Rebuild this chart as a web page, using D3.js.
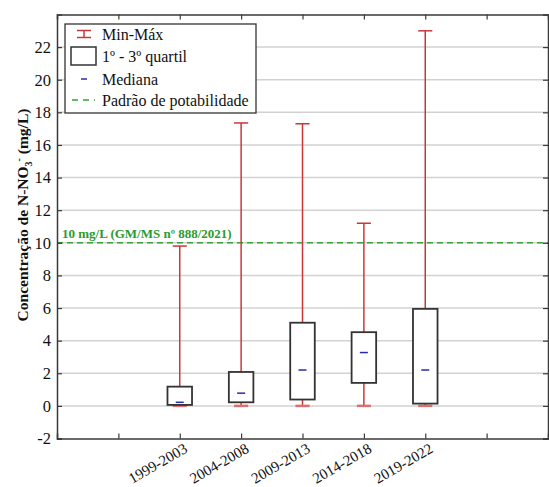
<!DOCTYPE html>
<html>
<head>
<meta charset="utf-8">
<script src="https://cdn.jsdelivr.net/npm/d3@7"></script>
<style>
  body { margin: 0; background: #fff; }
  svg { display: block; }
  svg text { font-family: "Liberation Serif", "DejaVu Serif", serif; }
</style>
</head>
<body>
<svg id="chart" width="549" height="487"></svg>
<script>
// data (mg/L)
const periods = ['1999-2003', '2004-2008', '2009-2013', '2014-2018', '2019-2022'];
const minVals = [0, 0, 0, 0, 0];
const q1Vals = [0.06, 0.22, 0.39, 1.41, 0.14];
const medVals = [0.22, 0.78, 2.2, 3.27, 2.2];
const q3Vals = [1.18, 2.08, 5.1, 4.52, 5.95];
const maxVals = [9.8, 17.35, 17.3, 11.2, 23.0];
const yTicks = [-2, 0, 2, 4, 6, 8, 10, 12, 14, 16, 18, 20, 22];
const limitValue = 10;

const width = 549, height = 487;
const margin = { top: 14.5, right: 1, bottom: 48.5, left: 57 };

const svg = d3.select('#chart');

// x: categories sit on positions 2..6 of a 0..8 axis
const x = d3.scaleLinear().domain([0, 8]).range([margin.left, width - margin.right]);
const y = d3.scaleLinear().domain([-2, 24]).range([height - margin.bottom, margin.top]);
const unit = x(1) - x(0);
const boxW = unit * 0.4;
const capW = unit * 0.23;

// grid
svg.append('g')
  .selectAll('line')
  .data(yTicks.filter(d => d > -2))
  .join('line')
  .attr('x1', x(0)).attr('x2', x(8))
  .attr('y1', d => y(d)).attr('y2', d => y(d))
  .attr('stroke', '#d2d2d2')
  .attr('stroke-width', 1.5);

// limit line
svg.append('line')
  .attr('x1', x(0)).attr('x2', x(8))
  .attr('y1', y(limitValue)).attr('y2', y(limitValue))
  .attr('stroke', '#3aa23a')
  .attr('stroke-width', 1.5)
  .attr('stroke-dasharray', '6,4');

svg.append('text')
  .attr('x', x(0) + 5)
  .attr('y', y(limitValue) - 5)
  .attr('fill', '#2e9a2e')
  .attr('font-weight', 'bold')
  .attr('font-size', '13px')
  .text('10 mg/L (GM/MS nº 888/2021)');

const data = periods.map((p, i) => ({
  name: p, pos: i + 2,
  min: minVals[i], q1: q1Vals[i], med: medVals[i], q3: q3Vals[i], max: maxVals[i]
}));

const red = '#c8383a';
const g = svg.append('g');
const box = g.selectAll('g').data(data).join('g');

// whiskers
box.append('line')
  .attr('x1', d => x(d.pos)).attr('x2', d => x(d.pos))
  .attr('y1', d => y(d.min)).attr('y2', d => y(d.max))
  .attr('stroke', red).attr('stroke-width', 1.5);
box.append('line')
  .attr('x1', d => x(d.pos) - capW / 2).attr('x2', d => x(d.pos) + capW / 2)
  .attr('y1', d => y(d.max)).attr('y2', d => y(d.max))
  .attr('stroke', red).attr('stroke-width', 1.5);
box.append('line')
  .attr('x1', d => x(d.pos) - capW / 2).attr('x2', d => x(d.pos) + capW / 2)
  .attr('y1', d => y(d.min)).attr('y2', d => y(d.min))
  .attr('stroke', '#d87070').attr('stroke-width', 2.5);

// boxes
box.append('rect')
  .attr('x', d => x(d.pos) - boxW / 2)
  .attr('width', boxW)
  .attr('y', d => y(d.q3))
  .attr('height', d => y(d.q1) - y(d.q3))
  .attr('fill', '#fff')
  .attr('stroke', '#333')
  .attr('stroke-width', 1.8);

// medians
box.append('line')
  .attr('x1', d => x(d.pos) - 4).attr('x2', d => x(d.pos) + 4)
  .attr('y1', d => y(d.med)).attr('y2', d => y(d.med))
  .attr('stroke', '#2a2ab0').attr('stroke-width', 1.5);

// frame + axes
const frame = '#3a3a3a';
const tickLen = 5;
const serif = '"Liberation Serif", "DejaVu Serif", serif';

const yAxisL = svg.append('g')
  .attr('transform', `translate(${margin.left},0)`)
  .call(d3.axisLeft(y).tickValues(yTicks).tickSize(-tickLen).tickPadding(6).tickFormat(d => String(d)));
const yAxisR = svg.append('g')
  .attr('transform', `translate(${width - margin.right},0)`)
  .call(d3.axisRight(y).tickValues(yTicks).tickSize(-tickLen).tickFormat(''));
const xAxisB = svg.append('g')
  .attr('transform', `translate(0,${height - margin.bottom})`)
  .call(d3.axisBottom(x).tickValues([1, 2, 3, 4, 5, 6, 7]).tickSize(-tickLen)
    .tickFormat(v => (v >= 2 && v <= 6) ? periods[v - 2] : ''));
const xAxisT = svg.append('g')
  .attr('transform', `translate(0,${margin.top})`)
  .call(d3.axisTop(x).tickValues([1, 2, 3, 4, 5, 6, 7]).tickSize(-tickLen).tickFormat(''));

[yAxisL, yAxisR, xAxisB, xAxisT].forEach(a => {
  a.attr('font-family', null).style('font-family', serif);
  a.select('.domain').attr('stroke', frame).attr('stroke-width', 1.5);
  a.selectAll('.tick line').attr('stroke', frame).attr('stroke-width', 1.2);
  a.selectAll('text').attr('fill', '#111').style('font-family', serif);
});
yAxisL.selectAll('text').attr('font-size', null).style('font-size', '16.5px');
xAxisB.selectAll('text')
  .attr('font-size', null).style('font-size', '15px')
  .attr('text-anchor', 'end')
  .attr('x', 0)
  .attr('y', 0)
  .attr('dy', '0.7em')
  .attr('transform', 'translate(3,4) rotate(-30)');

// y label
const yl = svg.append('text')
  .attr('transform', `translate(28,215) rotate(-90)`)
  .attr('text-anchor', 'middle')
  .attr('font-weight', 'bold')
  .attr('font-size', '15.5px')
  .attr('fill', '#111');
yl.append('tspan').text('Concentração de N-NO');
yl.append('tspan').attr('font-size', '10px').attr('dy', 4).text('3');
yl.append('tspan').attr('font-size', '10px').attr('dy', -10).text('-');
yl.append('tspan').attr('dy', 6).text(' (mg/L)');

// legend
const lg = svg.append('g');
lg.append('rect')
  .attr('x', 65).attr('y', 24).attr('width', 191).attr('height', 89)
  .attr('fill', '#fff').attr('stroke', '#333').attr('stroke-width', 1.3);

const rows = [34, 56, 79, 100];
const labels = ['Min-Máx', '1º - 3º quartil', 'Mediana', 'Padrão de potabilidade'];
lg.selectAll('text.leg').data(labels).join('text')
  .attr('class', 'leg')
  .attr('x', 102)
  .attr('y', (d, i) => rows[i])
  .attr('dy', '0.35em')
  .attr('font-size', '16px')
  .attr('fill', '#111')
  .text(d => d);

const sx = 84;
lg.append('line').attr('x1', sx).attr('x2', sx).attr('y1', rows[0] - 3.5).attr('y2', rows[0] + 3.5)
  .attr('stroke', red).attr('stroke-width', 1.5);
lg.append('line').attr('x1', sx - 7).attr('x2', sx + 7).attr('y1', rows[0] - 3.5).attr('y2', rows[0] - 3.5)
  .attr('stroke', red).attr('stroke-width', 1.5);
lg.append('line').attr('x1', sx - 7).attr('x2', sx + 7).attr('y1', rows[0] + 3.5).attr('y2', rows[0] + 3.5)
  .attr('stroke', red).attr('stroke-width', 1.5);
lg.append('rect').attr('x', 71).attr('y', rows[1] - 9).attr('width', 25).attr('height', 18)
  .attr('fill', '#fff').attr('stroke', '#333').attr('stroke-width', 1.5);
lg.append('line').attr('x1', sx - 3).attr('x2', sx + 3).attr('y1', rows[2]).attr('y2', rows[2])
  .attr('stroke', '#2a2ab0').attr('stroke-width', 1.5);
lg.append('line').attr('x1', 72).attr('x2', 95).attr('y1', rows[3]).attr('y2', rows[3])
  .attr('stroke', '#3aa23a').attr('stroke-width', 1.5).attr('stroke-dasharray', '6,5');
</script>
</body>
</html>
